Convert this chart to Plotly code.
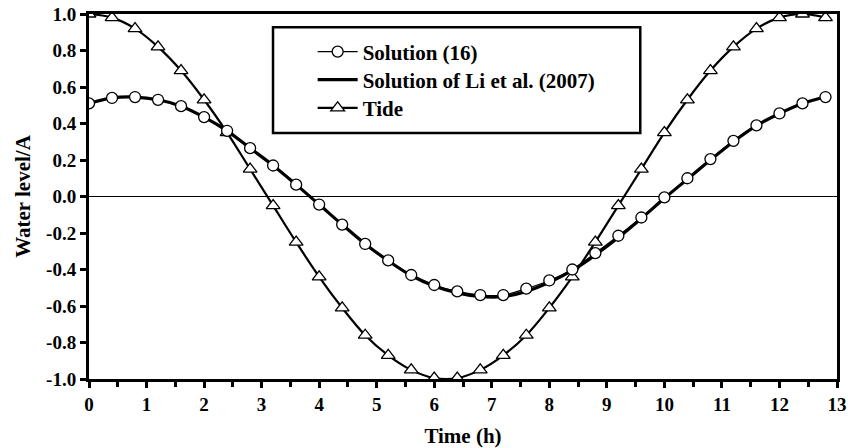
import plotly.graph_objects as go

time_h = [0.0, 0.4, 0.8, 1.2, 1.6, 2.0, 2.4, 2.8, 3.2, 3.6, 4.0, 4.4, 4.8, 5.2, 5.6, 6.0,
          6.4, 6.8, 7.2, 7.6, 8.0, 8.4, 8.8, 9.2, 9.6, 10.0, 10.4, 10.8, 11.2, 11.6, 12.0, 12.4, 12.8]

tide = [1.00, 0.98, 0.92, 0.82, 0.69, 0.53, 0.35, 0.15, -0.05, -0.25, -0.44, -0.61, -0.76,
        -0.87, -0.95, -0.995, -0.995, -0.95, -0.87, -0.76, -0.61, -0.44, -0.25, -0.05,
        0.15, 0.35, 0.53, 0.69, 0.82, 0.92, 0.98, 1.00, 0.98]

solution16 = [0.51, 0.54, 0.545, 0.53, 0.495, 0.435, 0.36, 0.265, 0.17, 0.065, -0.044, -0.154,
              -0.26, -0.35, -0.43, -0.485, -0.52, -0.54, -0.54, -0.505, -0.46, -0.40, -0.31,
              -0.215, -0.115, -0.005, 0.10, 0.205, 0.305, 0.39, 0.455, 0.51, 0.545]

li2007 = [0.51, 0.54, 0.545, 0.53, 0.495, 0.435, 0.36, 0.265, 0.17, 0.065, -0.044, -0.154,
          -0.26, -0.352, -0.433, -0.49, -0.528, -0.548, -0.548, -0.52, -0.47, -0.405, -0.32,
          -0.225, -0.12, -0.01, 0.095, 0.20, 0.30, 0.388, 0.455, 0.51, 0.545]

x_ticks = list(range(0, 14))
y_ticks = [-1.0, -0.8, -0.6, -0.4, -0.2, 0.0, 0.2, 0.4, 0.6, 0.8, 1.0]
y_labels = ["%.1f" % v for v in y_ticks]

FONT = "Liberation Serif"
TICKFONT = dict(family=FONT, size=19, color="black", weight="bold")
TITLEFONT = dict(family=FONT, size=21, color="black", weight="bold")
LEGFONT = dict(family=FONT, size=21, color="black", weight="bold")

fig = go.Figure()
fig.add_trace(go.Scatter(
    x=time_h, y=li2007, mode="lines", name="Solution of Li et al. (2007)",
    line=dict(color="black", width=3.2, shape="spline"), legend="legend2"))
fig.add_trace(go.Scatter(
    x=time_h, y=tide, mode="lines+markers", name="Tide",
    line=dict(color="black", width=2.2, shape="spline"),
    marker=dict(symbol="triangle-up", size=12, color="white",
                line=dict(color="black", width=1.3)), legend="legend3"))
fig.add_trace(go.Scatter(
    x=time_h, y=solution16, mode="lines+markers", name="Solution (16)",
    line=dict(color="black", width=1.2, shape="spline"),
    marker=dict(symbol="circle", size=11, color="white",
                line=dict(color="black", width=1.3)), legend="legend"))

leg_common = dict(x=0.299, xanchor="left", yanchor="middle",
                  bgcolor="rgba(0,0,0,0)", borderwidth=0, font=LEGFONT, itemwidth=40)

fig.update_layout(
    width=848, height=448,
    margin=dict(l=89, r=11, t=14, b=69, autoexpand=False),
    paper_bgcolor="white", plot_bgcolor="white",
    font=dict(family=FONT, color="black", size=16),
    showlegend=True,
    legend=dict(y=0.896, **leg_common),
    legend2=dict(y=0.819, **leg_common),
    legend3=dict(y=0.742, **leg_common),
    shapes=[dict(type="rect", xref="paper", yref="paper",
                 x0=0.246, x1=0.737, y0=0.674, y1=0.964,
                 line=dict(color="black", width=2.5), fillcolor="rgba(0,0,0,0)")],
)

fig.update_xaxes(
    range=[0, 13], tickvals=x_ticks, ticks="outside", ticklen=6, tickwidth=2.5,
    tickcolor="black", showline=True, linecolor="black", linewidth=3, mirror=True,
    showgrid=False, zeroline=False, automargin=False,
    tickfont=TICKFONT,
    minor=dict(dtick=0.5, ticks="outside", ticklen=5, tickwidth=2.5, tickcolor="black"),
    title=dict(text="Time (h)", font=TITLEFONT, standoff=16))

fig.update_yaxes(
    range=[-1.0, 1.0], tickvals=y_ticks, ticktext=y_labels,
    ticks="outside", ticklen=6, tickwidth=2.5, tickcolor="black",
    showline=True, linecolor="black", linewidth=3, mirror=True,
    showgrid=False, zeroline=True, zerolinecolor="black", zerolinewidth=1,
    automargin=False,
    tickfont=TICKFONT,
    title=dict(text="Water level/A", font=TITLEFONT, standoff=10))

fig.write_html("out.html", config={"displayModeBar": False},
               post_script="document.body.style.margin='0';")
